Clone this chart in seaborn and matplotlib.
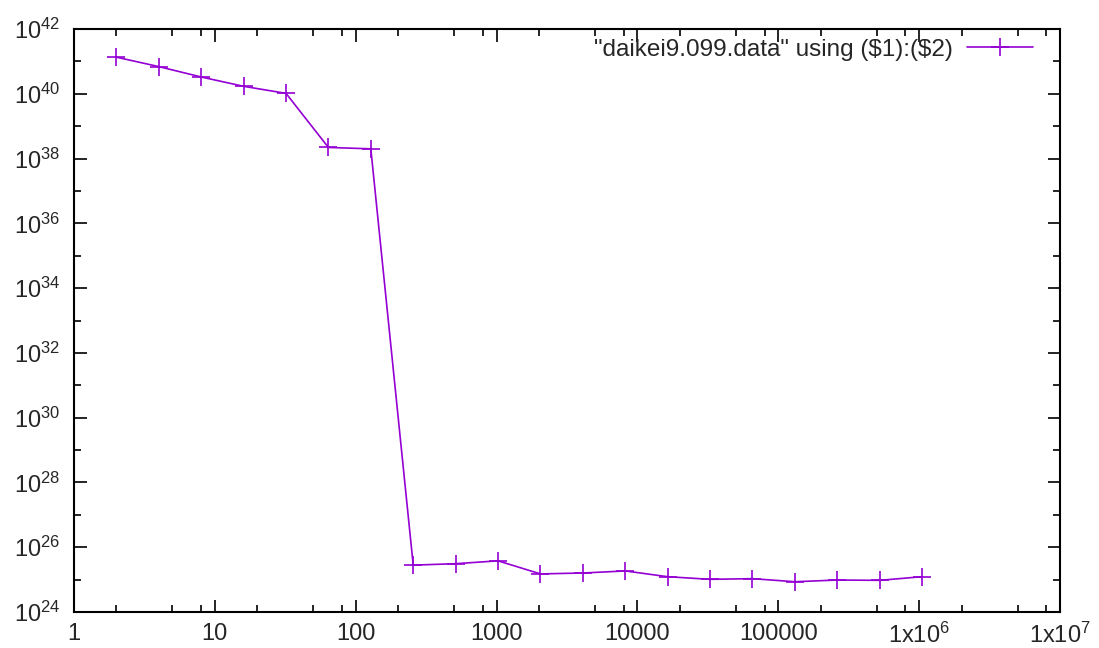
import matplotlib
matplotlib.use("Agg")
import matplotlib.pyplot as plt
import matplotlib.ticker as mticker
import numpy as np
import pandas as pd
import seaborn as sns

# ---- data ----
x_vals = [2, 4, 8, 16, 32, 64, 128, 256, 512, 1024, 2048, 4096, 8192, 16384,
          32768, 65536, 131072, 262144, 524288, 1048576]
y_vals = [1.35e41, 6.9e40, 3.3e40, 1.7e40, 1.03e40, 2.2e38, 2.0e38,
          2.8e25, 3.1e25, 3.8e25, 1.5e25, 1.6e25, 1.85e25, 1.23e25,
          1.02e25, 1.07e25, 8.6e24, 9.7e24, 9.5e24, 1.23e25]
series_label = '"daikei9.099.data" using (\\$1):(\\$2)'
x_tick_vals = [1, 10, 100, 1000, 10000, 100000, 1e6, 1e7]
x_tick_labels = ["1", "10", "100", "1000", "10000", "100000",
                 "1x10$^{6}$", "1x10$^{7}$"]
y_tick_exps = [24, 26, 28, 30, 32, 34, 36, 38, 40, 42]

df = pd.DataFrame({"x": x_vals, "y": y_vals})

sns.set_style("ticks")
plt.rcParams["font.family"] = ["Liberation Sans", "DejaVu Sans"]
plt.rcParams["mathtext.fontset"] = "custom"
plt.rcParams["mathtext.rm"] = "Liberation Sans"
plt.rcParams["mathtext.it"] = "Liberation Sans"
plt.rcParams["mathtext.bf"] = "Liberation Sans"

color = "#9400D3"

fig = plt.figure(figsize=(10.99, 6.48), dpi=100)
ax = fig.add_axes([74 / 1099, 1 - 612 / 648, (1060 - 74) / 1099, (612 - 29) / 648])

sns.lineplot(data=df, x="x", y="y", ax=ax, color=color, marker="+",
             markersize=13, markeredgewidth=1.2, markeredgecolor=color,
             markerfacecolor=color, linewidth=1.2, label=series_label)

ax.set_xscale("log")
ax.set_yscale("log")
ax.set_xlim(1, 1e7)
ax.set_ylim(1e24, 1e42)

ax.xaxis.set_major_locator(mticker.FixedLocator(x_tick_vals))
ax.xaxis.set_major_formatter(mticker.FixedFormatter(x_tick_labels))
ax.xaxis.set_minor_locator(mticker.LogLocator(base=10, subs=(2, 5, 8), numticks=20))
ax.xaxis.set_minor_formatter(mticker.NullFormatter())

ax.yaxis.set_major_locator(mticker.FixedLocator([10.0 ** e for e in y_tick_exps]))
ax.yaxis.set_major_formatter(mticker.FixedFormatter(
    ["10$^{%d}$" % e for e in y_tick_exps]))
ax.yaxis.set_minor_locator(mticker.FixedLocator([10.0 ** e for e in range(25, 42, 2)]))
ax.yaxis.set_minor_formatter(mticker.NullFormatter())

ax.tick_params(which="both", direction="in", top=True, right=True,
               color="black", width=1.2)
ax.tick_params(which="major", length=9, labelsize=17)
ax.tick_params(axis="y", which="major", pad=10)
ax.tick_params(axis="x", which="major", pad=8)
ax.tick_params(which="minor", length=5)

for s in ax.spines.values():
    s.set_visible(True)
    s.set_color("black")
    s.set_linewidth(1.5)

ax.set_xlabel("")
ax.set_ylabel("")

leg = ax.legend(loc="upper right", frameon=False, markerfirst=False,
                fontsize=17.5, handlelength=2.7, handletextpad=0.6,
                borderpad=0, borderaxespad=0,
                bbox_to_anchor=(0.9726, 0.983))

fig.savefig("out.png", dpi=100)
